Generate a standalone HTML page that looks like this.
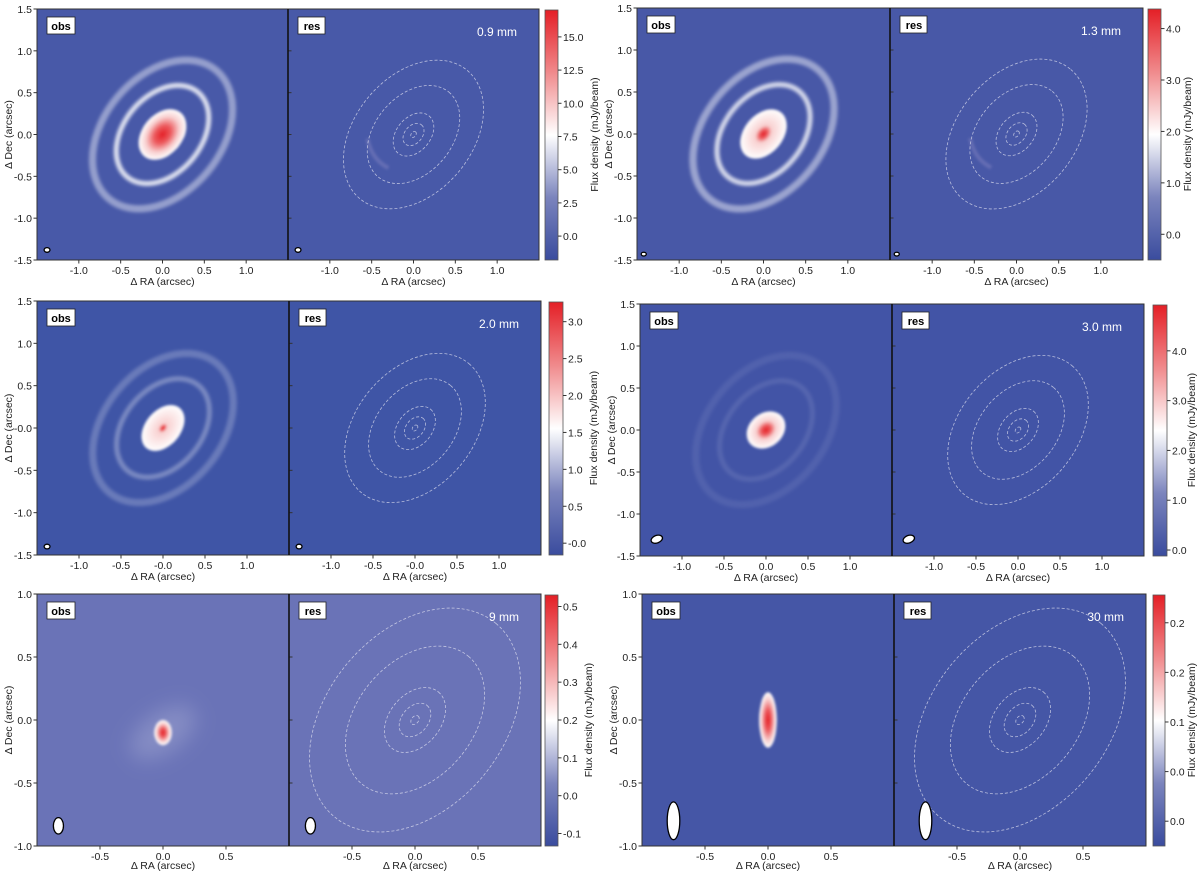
<!DOCTYPE html>
<html><head><meta charset="utf-8">
<style>
html,body{margin:0;padding:0;background:#fff;}
svg{display:block;font-family:"Liberation Sans","DejaVu Sans",sans-serif;}
</style></head>
<body>
<svg id="fig" width="1200" height="872" viewBox="0 0 1200 872" xmlns="http://www.w3.org/2000/svg">
<defs>
<filter id="b1" x="-50%" y="-50%" width="200%" height="200%"><feGaussianBlur stdDeviation="1.2"/></filter>
<filter id="b2" x="-50%" y="-50%" width="200%" height="200%"><feGaussianBlur stdDeviation="1.6"/></filter>
<filter id="b3" x="-50%" y="-50%" width="200%" height="200%"><feGaussianBlur stdDeviation="4"/></filter>
<filter id="b4" x="-50%" y="-50%" width="200%" height="200%"><feGaussianBlur stdDeviation="10"/></filter>
<linearGradient id="cmap" x1="0" y1="1" x2="0" y2="0">
<stop offset="0" stop-color="#3a4c9e"/><stop offset="0.25" stop-color="#7b84bd"/>
<stop offset="0.5" stop-color="#ffffff"/><stop offset="0.75" stop-color="#f08a8c"/>
<stop offset="1" stop-color="#e41f26"/></linearGradient>
</defs>
</svg>
<script>
// ---- data ----
const bandLabels = ['0.9 mm','1.3 mm','2.0 mm','3.0 mm','9 mm','30 mm'];
const cbMin = [-1.8, -0.5, -0.16, -0.12, -0.133, -0.025];
const cbMax = [17.1, 4.4, 3.28, 4.94, 0.533, 0.229];
const cbTickVals = [[0,2.5,5,7.5,10,12.5,15],[0,1,2,3,4],[0,0.5,1,1.5,2,2.5,3],[0,1,2,3,4],[-0.1,0,0.1,0.2,0.3,0.4,0.5],[0,0.05,0.1,0.15,0.2]];
const cbTickLabels = [['0.0','2.5','5.0','7.5','10.0','12.5','15.0'],['0.0','1.0','2.0','3.0','4.0'],['-0.0','0.5','1.0','1.5','2.0','2.5','3.0'],['0.0','1.0','2.0','3.0','4.0'],['-0.1','0.0','0.1','0.2','0.3','0.4','0.5'],['0.0','0.0','0.1','0.2','0.2']];
const axisExtent = [1.5,1.5,1.5,1.5,1.0,1.0];
const xTickVals = [[-1,-0.5,0,0.5,1],[-1,-0.5,0,0.5,1],[-1,-0.5,0,0.5,1],[-1,-0.5,0,0.5,1],[-0.5,0,0.5],[-0.5,0,0.5]];
const xTickLabels = [['-1.0','-0.5','0.0','0.5','1.0'],['-1.0','-0.5','0.0','0.5','1.0'],['-1.0','-0.5','-0.0','0.5','1.0'],['-1.0','-0.5','0.0','0.5','1.0'],['-0.5','0.0','0.5'],['-0.5','0.0','0.5']];
const yTickVals = [[-1.5,-1,-0.5,0,0.5,1,1.5],[-1.5,-1,-0.5,0,0.5,1,1.5],[-1.5,-1,-0.5,0,0.5,1,1.5],[-1.5,-1,-0.5,0,0.5,1,1.5],[-1,-0.5,0,0.5,1],[-1,-0.5,0,0.5,1]];
const yTickLabels = [['-1.5','-1.0','-0.5','0.0','0.5','1.0','1.5'],['-1.5','-1.0','-0.5','0.0','0.5','1.0','1.5'],['-1.5','-1.0','-0.5','-0.0','0.5','1.0','1.5'],['-1.5','-1.0','-0.5','0.0','0.5','1.0','1.5'],['-1.0','-0.5','0.0','0.5','1.0'],['-1.0','-0.5','0.0','0.5','1.0']];
const bgColor = ['#4859a8','#4858a7','#3f55a6','#4254a6','#6a73b7','#4556a6'];
const coreA = [0.34,0.33,0.31,0.25,0.1,0.22];
const coreB = [0.24,0.23,0.21,0.2,0.07,0.07];
const coreAng = [50,50,50,40,90,90];
const coreY = [0,0,0,0,-0.1,0];
const redFrac = [0.7,0.35,0.2,0.5,0.7,0.75];
const ringR = [[0.66,1.0],[0.66,1.0],[0.66,1.0],[0.66,1.0],[],[]];
const ringOp = [[0.8,0.42],[0.75,0.45],[0.3,0.22],[0.1,0.08],[],[]];
const contourR = [0.04,0.15,0.29,0.66,1.0];
const beamX = [-1.38,-1.42,-1.38,-1.3,-0.83,-0.75];
const beamY = [-1.38,-1.43,-1.4,-1.3,-0.84,-0.8];
const beamRx = [0.035,0.03,0.035,0.07,0.04,0.05];
const beamRy = [0.028,0.022,0.028,0.045,0.065,0.15];
const beamAng = [0,0,0,-20,0,0];

// ---- layout ----
const layout = [
 {x0:37,y0:9,w:251,h:251,cb0:545,cb1:558,ct:40},
 {x0:637,y0:8,w:253,h:252,cb0:1148,cb1:1161,ct:30},
 {x0:37,y0:301,w:252,h:254,cb0:549,cb1:563,ct:34},
 {x0:640,y0:304,w:252,h:252,cb0:1153,cb1:1167,ct:28},
 {x0:37,y0:594,w:252,h:252,cb0:545,cb1:558,ct:34},
 {x0:642,y0:594,w:252,h:252,cb0:1153,cb1:1165,ct:30}
];
const NS='http://www.w3.org/2000/svg';
const svg=document.getElementById('fig');
const defs=svg.querySelector('defs');
function mk(tag,attrs,parent){const e=document.createElementNS(NS,tag);for(const k in attrs)e.setAttribute(k,attrs[k]);(parent||svg).appendChild(e);return e;}

layout.forEach((L,i)=>{
  const ext=axisExtent[i];
  const s=L.w/(2*ext);
  const sy=L.h/(2*ext);
  const g=mk('g',{});
  
  
  const cp=mk('clipPath',{id:'clip'+i},defs);
  mk('rect',{x:L.x0,y:L.y0,width:2*L.w,height:L.h},cp);
  const rg=mk('radialGradient',{id:'core'+i},defs);
  mk('stop',{offset:0,'stop-color':'#e41f26'},rg);
  mk('stop',{offset:redFrac[i]*0.5,'stop-color':'#ec5a5e'},rg);
  mk('stop',{offset:redFrac[i],'stop-color':'#f8d0d0'},rg);
  mk('stop',{offset:1,'stop-color':'#ffffff'},rg);
  const tickFs=10.5;

  ['obs','res'].forEach((kind,k)=>{
    const px0=L.x0+k*L.w;
    const cx=px0+L.w/2, cy=L.y0+L.h/2;
    const X=v=>cx+v*s, Y=v=>cy-v*sy;
    const pg=mk('g',{'clip-path':'url(#clip'+i+')'},g);
    
    
    mk('rect',{x:px0,y:L.y0,width:L.w,height:L.h,fill:bgColor[i]},pg);
    if(kind==='obs'){
      ringR[i].forEach((r,j)=>{
        const e=mk('ellipse',{cx:X(0),cy:Y(0),rx:r*s,ry:r*0.7*s,fill:'none',stroke:'#fff','stroke-width':r*s*0.07+1.3,'stroke-opacity':ringOp[i][j],filter:'url(#b2)',transform:`rotate(${-coreAng[0]} ${X(0)} ${Y(0)})`},pg);
        
        
      });
      if(i===4){mk('ellipse',{cx:X(0),cy:Y(-0.1),rx:0.3*s,ry:0.16*s,fill:'#fff','fill-opacity':0.18,filter:'url(#b4)',transform:`rotate(-35 ${X(0)} ${Y(-0.1)})`},pg);}
      const c=mk('ellipse',{cx:X(0),cy:Y(coreY[i]),rx:coreA[i]*s,ry:coreB[i]*s,fill:'url(#core'+i+')',filter:'url(#b1)',transform:`rotate(${-coreAng[i]} ${X(0)} ${Y(coreY[i])})`},pg);
      
      
    } else {
      if(i===0||i===1){mk('path',{d:`M${X(-0.55)} ${Y(-0.05)} Q ${X(-0.5)} ${Y(-0.3)} ${X(-0.3)} ${Y(-0.4)}`,fill:'none',stroke:'#c8b8dd','stroke-width':4,'stroke-opacity':0.22,filter:'url(#b1)'},pg);}
      contourR.forEach(r=>{
        const e=mk('ellipse',{cx:X(0),cy:Y(0),rx:r*s,ry:r*0.7*s,fill:'none',stroke:'#e8e8f4','stroke-width':0.8,'stroke-opacity':0.7,'stroke-dasharray':'3 2',transform:`rotate(${-coreAng[0]} ${X(0)} ${Y(0)})`},pg);
        
        
      });
      const t=mk('text',{x:px0+L.w-22,y:L.y0+27,'text-anchor':'end','font-size':12,fill:'#fff'},pg);
      t.textContent=bandLabels[i];
      
      
    }
    const bm=mk('ellipse',{cx:X(beamX[i]),cy:Y(beamY[i]),rx:beamRx[i]*s,ry:beamRy[i]*s,fill:'#fff',stroke:'#000','stroke-width':1.3,transform:`rotate(${beamAng[i]} ${X(beamX[i])} ${Y(beamY[i])})`},pg);
    
    
    const tb=mk('rect',{x:px0+10,y:L.y0+8,width:kind==='obs'?28:27,height:17,fill:'#fff',stroke:'#222','stroke-width':0.8},g);
    
    
    const tt=mk('text',{x:px0+24,y:L.y0+21,'text-anchor':'middle','font-size':11,'font-weight':'bold',fill:'#000'},g);
    tt.textContent=kind;
    mk('rect',{x:px0,y:L.y0,width:L.w,height:L.h,fill:'none',stroke:'#333','stroke-width':1},g);
    xTickVals[i].forEach((v,j)=>{
      mk('line',{x1:X(v),x2:X(v),y1:L.y0+L.h,y2:L.y0+L.h+3.5,stroke:'#333'},g);
      const lt=mk('text',{x:X(v),y:L.y0+L.h+14,'text-anchor':'middle','font-size':tickFs,fill:'#222'},g);
      lt.textContent=xTickLabels[i][j];
      
      
    });
    const xl=mk('text',{x:cx,y:L.y0+L.h+(i>=4?23:25),'text-anchor':'middle','font-size':tickFs,fill:'#222'},g);
    xl.textContent='Δ RA (arcsec)';
    
    
    yTickVals[i].forEach((v,j)=>{
      if(k===0){
        mk('line',{x1:px0-3.5,x2:px0,y1:Y(v),y2:Y(v),stroke:'#333'},g);
        const lt=mk('text',{x:px0-5,y:Y(v)+4,'text-anchor':'end','font-size':tickFs,fill:'#222'},g);
        lt.textContent=yTickLabels[i][j];
        
        
      } else {
        mk('line',{x1:px0,x2:px0+3.5,y1:Y(v),y2:Y(v),stroke:'#333'},g);
      }
    });
  });
  mk('line',{x1:L.x0+L.w,x2:L.x0+L.w,y1:L.y0,y2:L.y0+L.h,stroke:'#111','stroke-width':1.6},g);
  const yl=mk('text',{x:0,y:0,'text-anchor':'middle','font-size':tickFs,fill:'#222',transform:`translate(${L.x0-25},${L.y0+L.h/2}) rotate(-90)`},g);
  yl.textContent='Δ Dec  (arcsec)';
  
  
  const cb=mk('rect',{x:L.cb0,y:L.y0+1,width:L.cb1-L.cb0,height:L.h-1,fill:'url(#cmap)',stroke:'#555','stroke-width':0.8},g);
  
  
  const CY=v=>L.y0+L.h-(v-cbMin[i])/(cbMax[i]-cbMin[i])*L.h;
  cbTickVals[i].forEach((v,j)=>{
    mk('line',{x1:L.cb1,x2:L.cb1+3.5,y1:CY(v),y2:CY(v),stroke:'#333'},g);
    const lt=mk('text',{x:L.cb1+5,y:CY(v)+4,'font-size':tickFs,fill:'#222'},g);
    lt.textContent=cbTickLabels[i][j];
    
    
  });
  const cl=mk('text',{x:0,y:0,'text-anchor':'middle','font-size':tickFs,fill:'#222',transform:`translate(${L.cb1+L.ct},${L.y0+L.h/2}) rotate(-90)`},g);
  cl.textContent='Flux density (mJy/beam)';
  
  
});
</script>
</body></html>
